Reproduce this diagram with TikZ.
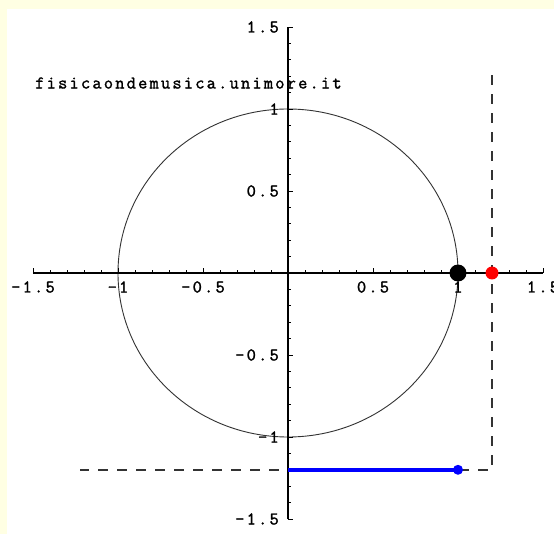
\documentclass[tikz,border=0pt]{standalone}
\usepackage{fontspec}
\newfontfamily\mmafont[LetterSpace=12,FakeBold=1.5]{Latin Modern Mono}
\definecolor{margin}{HTML}{FFFFE3}
\definecolor{lingray}{HTML}{333333}
\definecolor{dotred}{HTML}{FF0000}
\definecolor{dotblue}{HTML}{0000FF}
\tikzset{
  axisline/.style={line width=1.1pt, black},
  tickline/.style={line width=0.9pt, black},
  circline/.style={line width=0.9pt, lingray},
  guide/.style={line width=1.4pt, lingray, dash pattern=on 10pt off 9pt},
  ticklabel/.style={font=\mmafont\fontsize{18}{18}\selectfont, text=black, inner sep=0pt},
  dotnode/.style={circle, inner sep=0pt, draw=none}
}
\begin{document}
\begin{tikzpicture}[x=170pt, y=164pt]
  % background and margins
  \fill[margin] (-1.6941,-1.5915) rectangle (1.5647,1.6646);
  \fill[white] (-1.6529,-1.5915) rectangle (1.5647,1.6098);
  \useasboundingbox (-1.6941,-1.5915) rectangle (1.5647,1.6646);

  % circle
  \draw[circline] (0,0) circle[x radius=1, y radius=1];

  % dashed guides
  \coordinate (gtop) at (1.2,1.207);
  \coordinate (gcorner) at (1.2,-1.2);
  \coordinate (gleft) at (-1.2235,-1.2);
  \draw[guide] (gtop) -- (gcorner) -- (gleft);

  % axes
  \coordinate (xl) at (-1.5,0);
  \coordinate (xr) at (1.5,0);
  \coordinate (yb) at (0,-1.5);
  \coordinate (yt) at (0,1.5);
  \draw[axisline] (xl) -- (xr);
  \draw[axisline] (yb) -- (yt);

  % ticks
  \foreach \i in {-15,...,15}{
    \pgfmathsetmacro{\v}{\i/10}
    \pgfmathtruncatemacro{\m}{mod(abs(\i),5)==0 ? 1 : 0}
    \ifnum\m=1
      \draw[tickline] (\v,0) -- ++(0,5pt);
      \draw[tickline] (0,\v) -- ++(5pt,0);
    \else
      \draw[tickline] (\v,0) -- ++(0,3pt);
      \draw[tickline] (0,\v) -- ++(3pt,0);
    \fi
  }

  % tick labels x
  \foreach \v/\t [count=\k] in {-1.5/-1.5,-1/-1,-0.5/-0.5,0.5/0.5,1/1,1.5/1.5}{
    \node[ticklabel] (xlab\k) at ([yshift=-14pt]\v,0) {\t};
  }
  % tick labels y
  \foreach \v/\t [count=\k] in {1.5/1.5,1/1,0.5/0.5,-0.5/-0.5,-1/-1,-1.5/-1.5}{
    \node[ticklabel, anchor=east] (ylab\k) at ([xshift=-9pt]0,\v) {\t};
  }

  % watermark text
  \node[ticklabel, anchor=west] (wm) at (-1.488,1.1585) {fisicaondemusica.unimore.it};

  % blue segment and dots
  \node[dotnode, fill=dotblue, minimum size=10pt] (bdot) at (1,-1.2) {};
  \coordinate (bstart) at (0,-1.2);
  \draw[line width=4.5pt, dotblue] (bstart) -- (bdot.center);
  \node[dotnode, fill=black, minimum size=17pt] (kdot) at (1,0) {};
  \node[dotnode, fill=dotred, minimum size=13pt] (rdot) at (1.2,0) {};
\end{tikzpicture}
\end{document}
